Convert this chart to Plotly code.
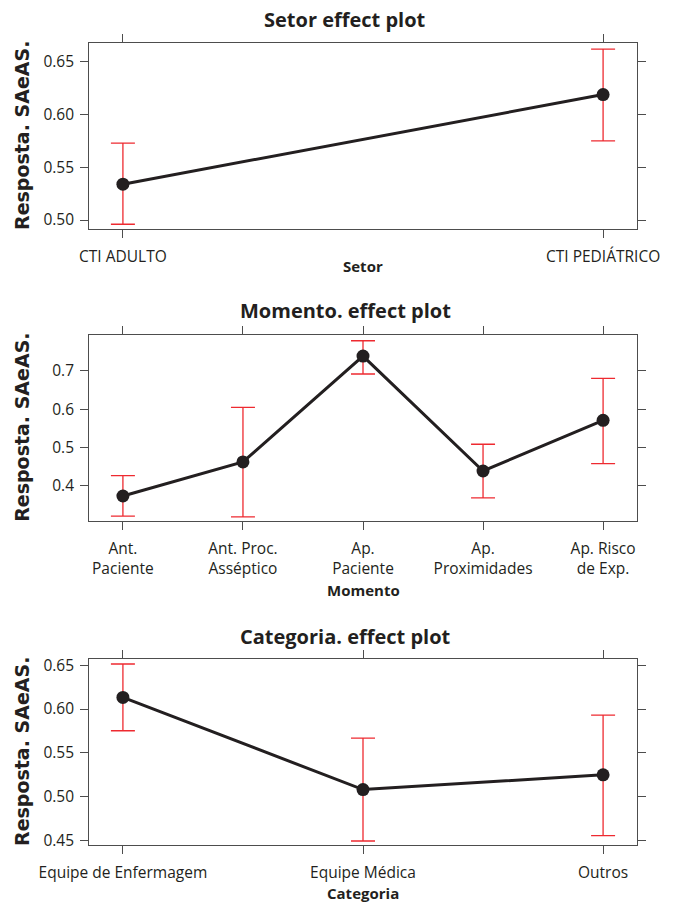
import plotly.graph_objects as go

W, H = 676, 902

# ---------------- data ----------------
setor_cats = ["CTI ADULTO", "CTI PEDIÁTRICO"]
setor_fit = [0.534, 0.619]
setor_lower = [0.496, 0.575]
setor_upper = [0.573, 0.662]

momento_cats = ["Ant.<br>Paciente", "Ant. Proc.<br>Asséptico", "Ap.<br>Paciente",
                "Ap.<br>Proximidades", "Ap. Risco<br>de Exp."]
momento_fit = [0.374, 0.4625, 0.738, 0.439, 0.571]
momento_lower = [0.3216, 0.3195, 0.6914, 0.3689, 0.458]
momento_upper = [0.427, 0.6044, 0.778, 0.5086, 0.680]

categoria_cats = ["Equipe de Enfermagem", "Equipe Médica", "Outros"]
categoria_fit = [0.6133, 0.508, 0.5248]
categoria_lower = [0.5752, 0.4492, 0.4554]
categoria_upper = [0.6515, 0.5668, 0.5931]

panels = [
    dict(title="Setor effect plot", xlab="Setor", cats=setor_cats, fit=setor_fit,
         lo=setor_lower, hi=setor_upper, yr=[0.4915, 0.6679],
         yt=[0.50, 0.55, 0.60, 0.65], fmt="{:.2f}",
         box=(43, 229), title_y=19, xlab_y=266),
    dict(title="Momento. effect plot", xlab="Momento", cats=momento_cats, fit=momento_fit,
         lo=momento_lower, hi=momento_upper, yr=[0.3089, 0.7937],
         yt=[0.4, 0.5, 0.6, 0.7], fmt="{:.1f}",
         box=(334.7, 521), title_y=310, xlab_y=590),
    dict(title="Categoria. effect plot", xlab="Categoria", cats=categoria_cats, fit=categoria_fit,
         lo=categoria_lower, hi=categoria_upper, yr=[0.4446, 0.6572],
         yt=[0.45, 0.50, 0.55, 0.60, 0.65], fmt="{:.2f}",
         box=(659, 845), title_y=636, xlab_y=893),
]

BOX_L, BOX_R = 89.3, 636.7
TICK_FONT = dict(family="Open Sans", size=15.5, color="#231F20")
LINE_COL = "#231F20"
ERR_COL = "#EE2A30"
FRAME_COL = "#4d4d4d"

fig = go.Figure()
annotations = []
layout = {}

for i, p in enumerate(panels):
    n = len(p["cats"])
    xs = list(range(1, n + 1))
    ax = "" if i == 0 else str(i + 1)
    xref, yref = "x" + ax, "y" + ax
    err_plus = [h - f for h, f in zip(p["hi"], p["fit"])]
    err_minus = [f - l for f, l in zip(p["fit"], p["lo"])]
    fig.add_trace(go.Scatter(
        x=xs, y=p["fit"], xaxis=xref, yaxis=yref, mode="lines+markers",
        line=dict(color=LINE_COL, width=3),
        marker=dict(color=LINE_COL, size=13),
        error_y=dict(type="data", symmetric=False, array=err_plus, arrayminus=err_minus,
                     color=ERR_COL, thickness=1.3, width=12),
        showlegend=False, hoverinfo="x+y"))
    top, bot = p["box"]
    pad = 0.07 * (n - 1)
    layout["xaxis" + ax] = dict(
        domain=[BOX_L / W, BOX_R / W], anchor=yref, automargin=False,
        range=[1 - pad, n + pad], tickmode="array", tickvals=xs, ticktext=p["cats"],
        showgrid=False, zeroline=False, showline=True, linecolor=FRAME_COL, linewidth=1.3,
        mirror="allticks", ticks="outside", ticklen=8, tickcolor=FRAME_COL, tickwidth=1.3,
        tickfont=TICK_FONT, ticklabelstandoff=5)
    layout["yaxis" + ax] = dict(
        domain=[1 - bot / H, 1 - top / H], anchor=xref, automargin=False,
        range=p["yr"], tickmode="array", tickvals=p["yt"],
        ticktext=[p["fmt"].format(v) for v in p["yt"]],
        showgrid=False, zeroline=False, showline=True, linecolor=FRAME_COL, linewidth=1.3,
        mirror="allticks", ticks="outside", ticklen=8, tickcolor=FRAME_COL, tickwidth=1.3,
        tickfont=TICK_FONT, ticklabelstandoff=3)
    annotations.append(dict(
        text="<b>" + p["title"] + "</b>", x=345 / W, y=1 - p["title_y"] / H,
        xref="paper", yref="paper", showarrow=False, xanchor="center", yanchor="middle",
        font=dict(family="Open Sans", size=20, color="#231F20")))
    annotations.append(dict(
        text="<b>" + p["xlab"] + "</b>", x=(BOX_L + BOX_R) / 2 / W, y=1 - p["xlab_y"] / H,
        xref="paper", yref="paper", showarrow=False, xanchor="center", yanchor="middle",
        font=dict(family="Open Sans", size=15, color="#231F20")))
    annotations.append(dict(
        text="<b>Resposta. SAeAS.</b>", x=22 / W, y=1 - (top + bot) / 2 / H,
        xref="paper", yref="paper", showarrow=False, xanchor="center", yanchor="middle",
        textangle=-90, font=dict(family="DejaVu Sans", size=19, color="#231F20")))

fig.update_layout(
    width=W, height=H, margin=dict(l=0, r=0, t=0, b=0, autoexpand=False),
    paper_bgcolor="white", plot_bgcolor="white",
    annotations=annotations, **layout)

fig.write_html("out.html",
               config={"displayModeBar": False},
               post_script="document.body.style.margin='0';document.body.style.padding='0';"
                           "document.documentElement.style.overflow='hidden';")
